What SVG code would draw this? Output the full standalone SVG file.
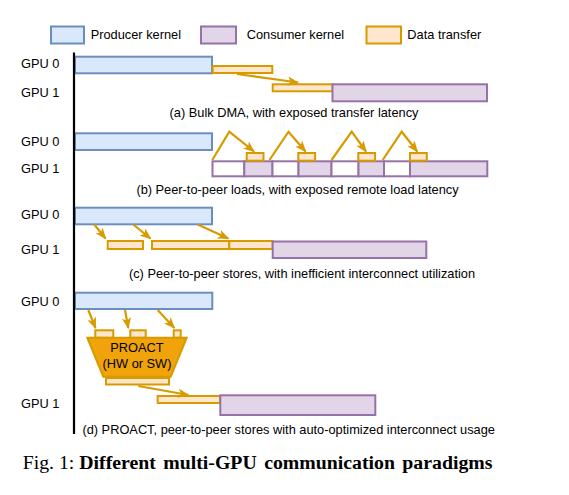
<svg xmlns="http://www.w3.org/2000/svg" width="569" height="495" viewBox="0 0 569 495">
<style>
text{font-family:"Liberation Sans",Arial,sans-serif;font-size:12.8px;fill:#000}
.cap{text-anchor:middle}
.prod{fill:#dae8fc;stroke:#6c8ebf;stroke-width:2}
.cons{fill:#e1d5e7;stroke:#9673a6;stroke-width:2}
.white{fill:#ffffff;stroke:#9673a6;stroke-width:2}
.xfer{fill:#ffe6cc;stroke:#d79b00;stroke-width:2}
.arr{fill:none;stroke:#d79b00;stroke-width:2.2;marker-end:url(#ah)}
.fig{font-family:"Liberation Serif","Times New Roman",serif;font-size:19.8px}
</style>
<defs>
<marker id="ah" viewBox="0 0 10 8" refX="9" refY="4" markerWidth="11.5" markerHeight="9.2" orient="auto" markerUnits="userSpaceOnUse">
<path d="M0,0 L10,4 L0,8 L2.5,4 Z" fill="#d79b00"/>
</marker>
</defs>
<rect width="569" height="495" fill="#fff"/>

<g id="legend">
<rect class="prod" x="51" y="26.5" width="33" height="17"/>
<text x="90.7" y="39.3">Producer kernel</text>
<rect class="cons" x="201" y="26.5" width="35" height="17"/>
<text x="246.7" y="39.3">Consumer kernel</text>
<rect class="xfer" x="366.5" y="26.5" width="34.5" height="17"/>
<text x="407.3" y="39.3">Data transfer</text>
</g>

<g id="labels">
<text x="21" y="68.3">GPU 0</text>
<text x="21" y="96.7">GPU 1</text>
<text x="21" y="145.7">GPU 0</text>
<text x="21" y="172.7">GPU 1</text>
<text x="21" y="219.3">GPU 0</text>
<text x="21" y="254">GPU 1</text>
<text x="21" y="305.7">GPU 0</text>
<text x="21" y="408.3">GPU 1</text>
</g>

<g id="panel-a">
<rect id="a-prod" class="prod" x="75" y="56.7" width="137" height="16.6"/>
<rect id="a-x0" class="xfer" x="212.7" y="66" width="59.6" height="7"/>
<rect id="a-x1" class="xfer" x="272.7" y="84.3" width="60" height="7"/>
<rect id="a-cons" class="cons" x="332.5" y="84.3" width="154.5" height="17"/>
<text class="cap" x="294" y="116.7">(a) Bulk DMA, with exposed transfer latency</text>
</g>

<g id="panel-b">
<rect id="b-prod" class="prod" x="75" y="133.3" width="137" height="16.7"/>
<rect class="white" x="212.5" y="161.3" width="31.8" height="15"/>
<rect class="cons" x="244.3" y="161.3" width="28.2" height="15"/>
<rect class="white" x="272.5" y="161.3" width="26" height="15"/>
<rect class="cons" x="298.5" y="161.3" width="33" height="15"/>
<rect class="white" x="331.5" y="161.3" width="27" height="15"/>
<rect class="cons" x="358.5" y="161.3" width="25.5" height="15"/>
<rect class="white" x="384" y="161.3" width="26" height="15"/>
<rect class="cons" x="410" y="161.3" width="77.3" height="15"/>
<rect class="xfer" x="246.7" y="153" width="16.8" height="7.7"/>
<rect class="xfer" x="298.3" y="153" width="16.8" height="7.7"/>
<rect class="xfer" x="358.3" y="153" width="16.8" height="7.7"/>
<rect class="xfer" x="410" y="153" width="16.8" height="7.7"/>
<text class="cap" x="297.5" y="194">(b) Peer-to-peer loads, with exposed remote load latency</text>
</g>

<g id="panel-c">
<rect id="c-prod" class="prod" x="75" y="207.7" width="137" height="16.6"/>
<rect class="xfer" x="107.7" y="241" width="35.3" height="8"/>
<rect class="xfer" x="152" y="241" width="77.3" height="8"/>
<rect class="xfer" x="229.3" y="241" width="43.4" height="8"/>
<rect id="c-cons" class="cons" x="272.7" y="241.5" width="153.6" height="16.5"/>
<text class="cap" x="302" y="278.3">(c) Peer-to-peer stores, with inefficient interconnect utilization</text>
</g>

<g id="panel-d">
<rect id="d-prod" class="prod" x="75" y="292.7" width="137.3" height="16.3"/>
<rect class="xfer" x="95.3" y="330.3" width="18" height="7.5"/>
<rect class="xfer" x="130.3" y="330.3" width="15.4" height="7.5"/>
<rect class="xfer" x="173.7" y="330.3" width="7" height="7.5"/>
<g id="proact">
<path d="M87.3,337.7 L186.7,337.7 L170.7,376.7 L103.3,376.7 Z" fill="#f0a30a" stroke="#d79b00" stroke-width="2"/>
<text class="cap" x="137" y="351.7">PROACT</text>
<text class="cap" x="137" y="368.3">(HW or SW)</text>
</g>
<rect class="xfer" x="106" y="378" width="63" height="6.5"/>
<rect class="xfer" x="157.7" y="396" width="62.3" height="7"/>
<rect id="d-cons" class="cons" x="220.3" y="395.3" width="155" height="19.7"/>
<text class="cap" x="288.7" y="433.5">(d) PROACT, peer-to-peer stores with auto-optimized interconnect usage</text>
</g>

<g id="connectors">
<line class="arr" x1="237" y1="74" x2="298" y2="82.5"/>
<polyline class="arr" points="212.3,160 229.3,131.7 254,151.5"/>
<polyline class="arr" points="269.5,160 288.5,131.7 305.5,151.5"/>
<polyline class="arr" points="331.5,160 351.7,131.7 366,151.5"/>
<polyline class="arr" points="382.7,160 401.7,131.7 417.3,151.5"/>
<line class="arr" x1="94.3" y1="224.5" x2="105.5" y2="238.5"/>
<line class="arr" x1="133.3" y1="224.5" x2="150.5" y2="238.5"/>
<line class="arr" x1="197.7" y1="224.5" x2="228.3" y2="238.5"/>
<line class="arr" x1="88.3" y1="310" x2="95.5" y2="328"/>
<line class="arr" x1="125" y1="310" x2="128.3" y2="328"/>
<line class="arr" x1="157.7" y1="310" x2="174.3" y2="328"/>
<line class="arr" x1="138.3" y1="386" x2="188.3" y2="395"/>
</g>

<line id="axis" x1="74" y1="52.5" x2="74" y2="434" stroke="#000" stroke-width="2.2"/>

<text class="fig" x="22.7" y="469.3">Fig. 1: <tspan font-weight="bold" word-spacing="2.5">Different multi-GPU communication paradigms</tspan></text>
</svg>
